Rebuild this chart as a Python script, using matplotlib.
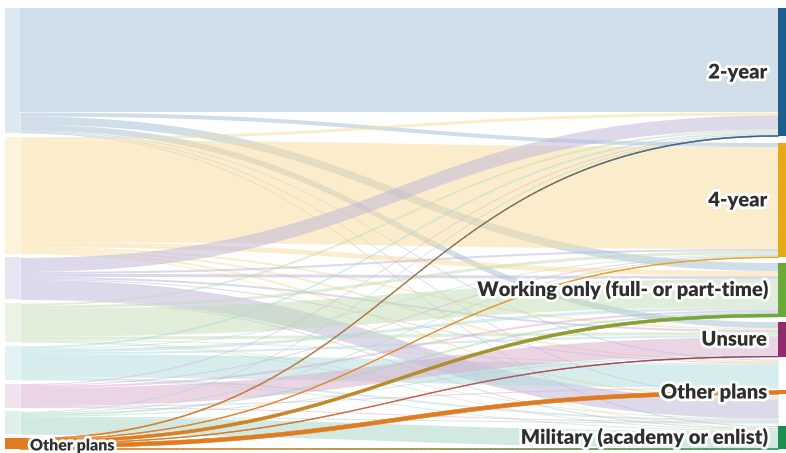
import numpy as np
import matplotlib.pyplot as plt
import matplotlib.patheffects as pe
from matplotlib.colors import to_rgb

plt.rcParams['font.family'] = ['Lato', 'DejaVu Sans']

# left (source) nodes, top to bottom; only the highlighted one carries a label
src_labels = ['', '', '', '', '', '', '', 'Other plans']
src_colors = ['#a1bfd3', '#f9dd9b', '#bdb5d9', '#c3ddb5', '#afdbdd', '#d9adcd', '#a5d5c3', '#e07b20']

# right (target) nodes, top to bottom
tgt_labels = ['2-year', '4-year', 'Working only (full- or part-time)', 'Unsure', '',
              'Other plans', '', 'Military (academy or enlist)']
tgt_colors = ['#1f5f8b', '#e8a919', '#6aaa3a', '#8e2c6e', None, '#e07b20', None, '#1e8c4e']

# flows[source][target]
flows = [
    [104, 4, 8, 6, 1, 0, 1, 1],
    [3, 102, 5, 2, 2, 0, 2, 1],
    [14, 2, 3, 2, 1, 0, 19, 1],
    [2, 3, 28, 3, 1, 0, 1, 1],
    [2, 1, 3, 2, 23, 0, 2, 1],
    [1, 1, 2, 18, 1, 0, 1, 0],
    [1, 1, 2, 1, 0, 0, 1, 17],
    [1, 0.8, 3, 0.8, 0, 4, 0, 1.4],
]
highlight = 7

F = np.array(flows, dtype=float)
src_tot = F.sum(axis=1)
tgt_tot = F.sum(axis=0)
top, bottom = 8, 449
span = bottom - top

# node positions
lgap = (span - src_tot.sum()) / (len(src_tot) - 1)
src_y0 = top + np.concatenate([[0], np.cumsum(src_tot[:-1] + lgap)])
rw = np.array([5, 4, 4, 2, 1.5, 1.5, 2])
rgaps = rw / rw.sum() * (span - tgt_tot.sum())
tgt_y0 = top + np.concatenate([[0], np.cumsum(tgt_tot[:-1] + rgaps)])

x_left0, x_left1 = 5, 20
x_right0, x_right1 = 778, 786

fig = plt.figure(figsize=(7.86, 4.53), dpi=100)
ax = fig.add_axes([0, 0, 1, 1])
ax.set_xlim(0, 786)
ax.set_ylim(453, 0)
ax.axis('off')

t = np.linspace(0, 1, 120)
def bez(a, b):
    # cubic with control points at the horizontal midpoint
    return (1 - t)**3 * a + 3 * (1 - t)**2 * t * a + 3 * (1 - t) * t**2 * b + t**3 * b

xm = (x_left1 + x_right0) / 2
xs = (1 - t)**3 * x_left1 + 3 * (1 - t)**2 * t * xm + 3 * (1 - t) * t**2 * xm + t**3 * x_right0

# offsets inside nodes
s_off = src_y0.copy()
t_off = tgt_y0.copy()
links = {}
for i in range(F.shape[0]):
    for j in range(F.shape[1]):
        if F[i, j] > 0:
            links[(i, j)] = [s_off[i], None]
            s_off[i] += F[i, j]
for j in range(F.shape[1]):
    for i in range(F.shape[0]):
        if F[i, j] > 0:
            links[(i, j)][1] = t_off[j]
            t_off[j] += F[i, j]

# pale links
for (i, j), (sy, ty) in links.items():
    if i == highlight:
        continue
    w = F[i, j]
    y_top = bez(sy, ty)
    y_bot = bez(sy + w, ty + w)
    ax.fill_between(xs, y_top, y_bot, color=src_colors[i], alpha=0.5, lw=0)

# left nodes
for i in range(len(src_tot)):
    if i == highlight:
        continue
    ax.fill_between([x_left0, x_left1], src_y0[i], src_y0[i] + src_tot[i],
                    color=src_colors[i], alpha=0.35, lw=0)

# highlighted links: gradient from source colour to target colour
for (i, j), (sy, ty) in links.items():
    if i != highlight:
        continue
    w = F[i, j]
    y_top = bez(sy, ty)
    y_bot = bez(sy + w, ty + w)
    c0 = np.array(to_rgb(src_colors[i]))
    c1 = np.array(to_rgb(tgt_colors[j] if tgt_colors[j] else src_colors[i]))
    for k in range(len(t) - 1):
        f = t[k]**1.5
        c = c0 * (1 - f) + c1 * f
        ax.fill_between(xs[k:k + 2], y_top[k:k + 2], y_bot[k:k + 2], color=c, lw=0.4,
                        edgecolor=c, zorder=4)

ax.fill_between([x_left0, 27], src_y0[highlight], src_y0[highlight] + src_tot[highlight],
                color=src_colors[highlight], lw=0, zorder=5)

# right nodes
for j in range(len(tgt_tot)):
    if tgt_colors[j] is None:
        continue
    ax.fill_between([x_right0, x_right1], tgt_y0[j], tgt_y0[j] + tgt_tot[j],
                    color=tgt_colors[j], lw=0, zorder=5)

halo = [pe.withStroke(linewidth=4, foreground='white')]
for j, lab in enumerate(tgt_labels):
    if lab:
        ax.text(767, tgt_y0[j] + tgt_tot[j] / 2, lab, ha='right', va='center',
                fontsize=14.5, fontweight='heavy', color='#2e2e2e', zorder=6,
                path_effects=halo)

ax.text(30, src_y0[highlight] + src_tot[highlight] / 2 + 2, src_labels[highlight],
        ha='left', va='center', fontsize=11.5, fontweight='heavy', color='#2e2e2e',
        zorder=6, path_effects=halo)

plt.savefig('out.png', dpi=100)
